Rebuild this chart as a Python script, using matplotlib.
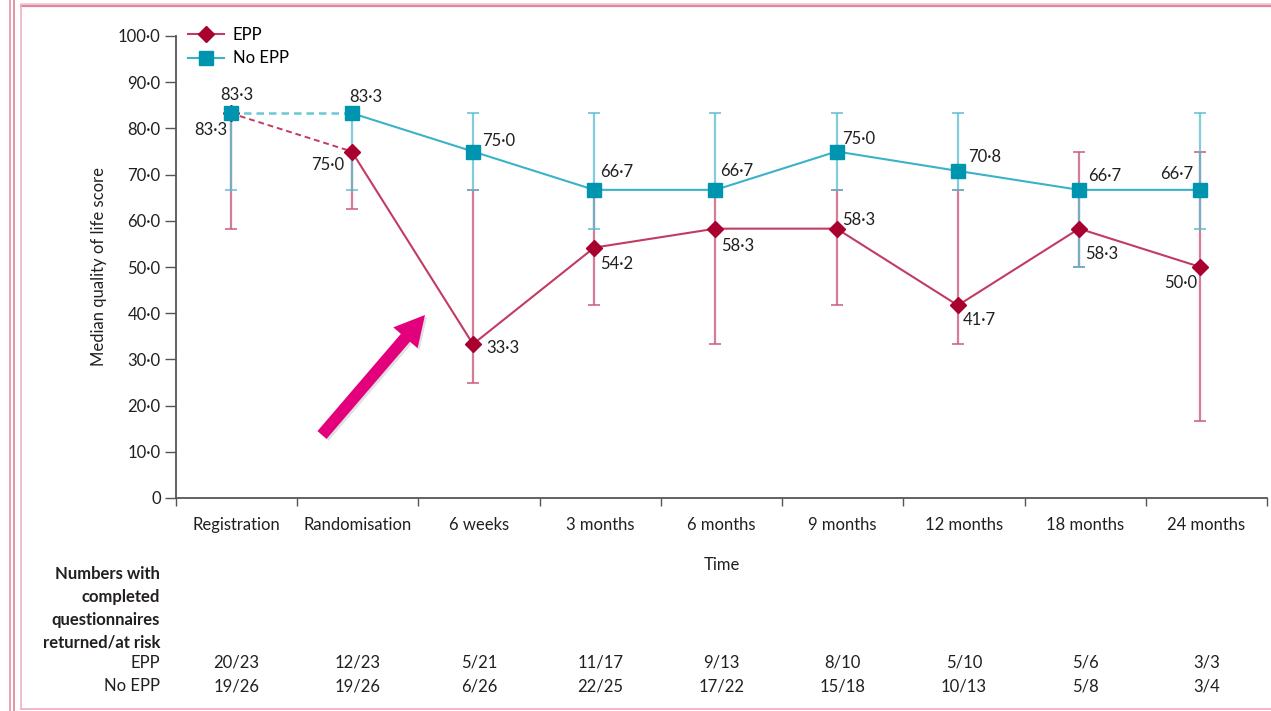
import matplotlib
matplotlib.use("Agg")
import matplotlib.pyplot as plt
from matplotlib.lines import Line2D
from matplotlib.patches import FancyArrow
from matplotlib.transforms import blended_transform_factory
from matplotlib.ticker import FixedLocator, NullFormatter, FixedFormatter

# ---- data -------------------------------------------------------------
timepoints = ["Registration", "Randomisation", "6 weeks", "3 months", "6 months",
              "9 months", "12 months", "18 months", "24 months"]

epp_median = [83.3, 75.0, 33.3, 54.2, 58.3, 58.3, 41.7, 58.3, 50.0]
epp_lower = [58.3, 62.5, 25.0, 41.7, 33.3, 41.7, 33.3, 50.0, 16.7]
epp_upper = [83.3, 75.0, 66.7, 66.7, 66.7, 66.7, 66.7, 75.0, 75.0]

noepp_median = [83.3, 83.3, 75.0, 66.7, 66.7, 75.0, 70.8, 66.7, 66.7]
noepp_lower = [66.7, 66.7, 66.7, 58.3, 66.7, 66.7, 66.7, 50.0, 58.3]
noepp_upper = [83.3, 83.3, 83.3, 83.3, 83.3, 83.3, 83.3, 66.7, 83.3]

epp_returned = ["20/23", "12/23", "5/21", "11/17", "9/13", "8/10", "5/10", "5/6", "3/3"]
noepp_returned = ["19/26", "19/26", "6/26", "22/25", "17/22", "15/18", "10/13", "5/8", "3/4"]

yticks = [0, 10, 20, 30, 40, 50, 60, 70, 80, 90, 100]

# ---- style ------------------------------------------------------------
FONT = ["Lato", "DejaVu Sans"]
plt.rcParams["font.family"] = FONT
FS = 12
TXT = "#231f20"
RED_M = "#A8002F"
RED_L = "#C23B62"
RED_E = "#CC5C7C"
TEAL_M = "#0095AF"
TEAL_L = "#3AB2C8"
TEAL_E = "#58BCD0"
AXC = "#555555"

# label offsets (pixels) for the value annotations
noepp_off = [(6, 18), (14, 16), (26, 10), (22, 18), (21, 19), (22, 12), (27, 14), (26, 14), (-24, 16)]
epp_off = [(-20, -17), (-24, -13), (30, -4), (22, -16), (22, -17), (22, 9), (21, -15), (23, -25), (-20, -16)]


def fmt(v):
    return f"{v:.1f}".replace(".", "\u00b7")


W, H = 1271, 711
fig = plt.figure(figsize=(W / 100, H / 100), dpi=100)
ax = fig.add_axes([176 / W, 1 - 498 / H, (1267 - 176) / W, (498 - 36) / H])

n = len(timepoints)
xpos = [i + 0.45 for i in range(n)]

# error bars (interquartile range)
epp_err = [[m - lo for m, lo in zip(epp_median, epp_lower)],
           [up - m for m, up in zip(epp_median, epp_upper)]]
noepp_err = [[m - lo for m, lo in zip(noepp_median, noepp_lower)],
             [up - m for m, up in zip(noepp_median, noepp_upper)]]

ax.errorbar(xpos, epp_median, yerr=epp_err, fmt="none", ecolor=RED_E,
            elinewidth=1.6, capsize=4, capthick=1.4, alpha=0.8, zorder=2)
ax.errorbar(xpos, noepp_median, yerr=noepp_err, fmt="none", ecolor=TEAL_E,
            elinewidth=1.6, capsize=4, capthick=1.4, alpha=0.75, zorder=2)

# connecting lines: dashed between registration and randomisation
ax.plot(xpos[:2], epp_median[:2], ls=(0, (3, 2)), color=RED_L, lw=1.4, zorder=3)
ax.plot(xpos[:2], noepp_median[:2], ls=(0, (3, 2)), color="#6CC6D6", lw=1.8, zorder=3)
ax.plot(xpos[1:], epp_median[1:], ls="-", color=RED_L, lw=1.5, zorder=3)
ax.plot(xpos[1:], noepp_median[1:], ls="-", color=TEAL_L, lw=1.5, zorder=3)

ax.plot(xpos, epp_median, ls="none", marker="D", ms=8, color=RED_M, zorder=4)
ax.plot(xpos, noepp_median, ls="none", marker="s", ms=10, color=TEAL_M, zorder=5)

for x, v, (dx, dy) in zip(xpos, noepp_median, noepp_off):
    ax.annotate(fmt(v), (x, v), xytext=(dx, dy), textcoords="offset pixels",
                ha="center", va="center", fontsize=FS, color=TXT, zorder=6)
for x, v, (dx, dy) in zip(xpos, epp_median, epp_off):
    ax.annotate(fmt(v), (x, v), xytext=(dx, dy), textcoords="offset pixels",
                ha="center", va="center", fontsize=FS, color=TXT, zorder=6)

# axes
ax.set_xlim(0, n)
ax.set_ylim(0, 100)
ax.set_yticks(yticks)
ax.set_yticklabels(["0" if t == 0 else fmt(t) for t in yticks])
ax.xaxis.set_major_locator(FixedLocator(list(range(n + 1))))
ax.xaxis.set_major_formatter(NullFormatter())
ax.xaxis.set_minor_locator(FixedLocator([i + 0.5 for i in range(n)]))
ax.xaxis.set_minor_formatter(FixedFormatter(timepoints))
ax.tick_params(axis="x", which="major", length=6, width=1, color=AXC, direction="out")
ax.tick_params(axis="x", which="minor", length=0, pad=14, labelsize=FS, labelcolor=TXT)
ax.tick_params(axis="y", length=8, width=1, color=AXC, direction="out", pad=3,
               labelsize=FS, labelcolor=TXT)
for s in ("top", "right"):
    ax.spines[s].set_visible(False)
for s in ("left", "bottom"):
    ax.spines[s].set_color(AXC)
    ax.spines[s].set_linewidth(1.3)
ax.set_ylabel("Median quality of life score", fontsize=FS, color=TXT, labelpad=8)
ax.set_xlabel("Time", fontsize=FS, color=TXT, labelpad=17)

handles = [Line2D([], [], color=RED_L, lw=1.5, marker="D", ms=8, mfc=RED_M, mec=RED_M),
           Line2D([], [], color=TEAL_L, lw=1.5, marker="s", ms=10, mfc=TEAL_M, mec=TEAL_M)]
ax.legend(handles, ["EPP", "No EPP"], loc="upper left", bbox_to_anchor=(0.0, 1.045),
          frameon=False, fontsize=FS, handlelength=2.2, handletextpad=0.5,
          labelspacing=0.45, borderaxespad=0.3)

# numbers-at-risk table beneath the axis
tr = blended_transform_factory(ax.transData, fig.transFigure)
head = ["Numbers with", "completed", "questionnaires", "returned/at risk"]
for k, line in enumerate(head):
    fig.text(160 / W, 1 - (574 + 23 * k) / H, line, ha="right", va="center",
             fontsize=FS, fontweight="bold", color=TXT)
fig.text(160 / W, 1 - 663 / H, "EPP", ha="right", va="center", fontsize=FS, color=TXT)
fig.text(160 / W, 1 - 686 / H, "No EPP", ha="right", va="center", fontsize=FS, color=TXT)
for i in range(n):
    ax.text(i + 0.5, 1 - 663 / H, epp_returned[i], transform=tr, ha="center",
            va="center", fontsize=FS, color=TXT)
    ax.text(i + 0.5, 1 - 686 / H, noepp_returned[i], transform=tr, ha="center",
            va="center", fontsize=FS, color=TXT)

# pink frame
def hline(ypx, x0, x1, color, lw):
    fig.add_artist(Line2D([x0 / W, x1 / W], [1 - ypx / H, 1 - ypx / H],
                          transform=fig.transFigure, color=color, lw=lw))


def vline(xpx, y0, y1, color, lw):
    fig.add_artist(Line2D([xpx / W, xpx / W], [1 - y0 / H, 1 - y1 / H],
                          transform=fig.transFigure, color=color, lw=lw))


hline(3.5, 21, W, "#F3C6D1", 1.2)
hline(5.5, 21, W, "#E0859C", 1.6)
hline(709, 21, W, "#F2B6C9", 1.4)
vline(10, 0, H, "#E8A1B3", 1.4)
vline(13.5, 0, H, "#E493A8", 1.4)
vline(21, 5, 709, "#F0B3C3", 1.2)

# highlighting arrow
def px(xp, yp):
    return xp / 100, (H - yp) / 100

x0, y0 = px(322, 435)
x1, y1 = px(425, 315)
shadow = FancyArrow(x0 + 0.02, y0 - 0.02, x1 - x0, y1 - y0, width=0.12, head_width=0.32,
                    head_length=0.30, length_includes_head=True,
                    transform=fig.dpi_scale_trans, color="#000000", alpha=0.12, lw=0)
arrow = FancyArrow(x0, y0, x1 - x0, y1 - y0, width=0.12, head_width=0.32,
                   head_length=0.30, length_includes_head=True,
                   transform=fig.dpi_scale_trans, color="#E3007C", lw=0)
fig.add_artist(shadow)
fig.add_artist(arrow)

fig.savefig("out.png", dpi=100)
